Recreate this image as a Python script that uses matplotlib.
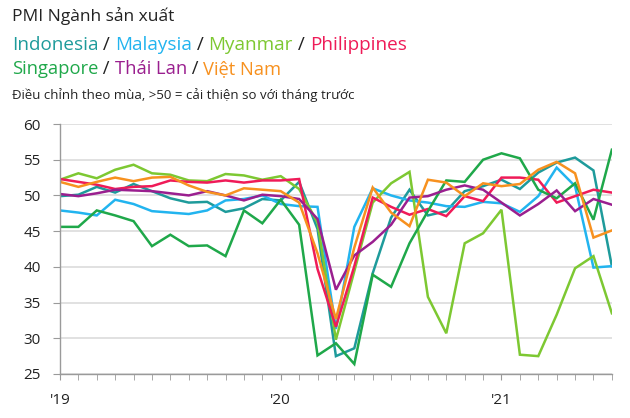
import matplotlib.pyplot as plt
import numpy as np

plt.rcParams['font.family'] = ['Open Sans', 'DejaVu Sans']

# Tháng 1/2019 -> tháng 7/2021
year_labels = ["'19", "'20", "'21"]

indonesia = [49.9, 50.1, 51.2, 50.4, 51.6, 50.6, 49.6, 49.0, 49.1, 47.7, 48.2, 49.5,
             49.3, 51.9, 45.3, 27.5, 28.6, 39.1, 46.9, 50.8, 47.2, 47.8, 50.6, 51.3,
             52.2, 50.9, 53.2, 54.6, 55.3, 53.5, 40.1]
malaysia = [47.9, 47.6, 47.2, 49.4, 48.8, 47.8, 47.6, 47.4, 47.9, 49.3, 49.5, 50.0,
            48.8, 48.5, 48.4, 31.3, 45.6, 51.0, 50.0, 49.3, 49.0, 48.5, 48.4, 49.1,
            48.9, 47.7, 49.9, 53.9, 51.3, 39.9, 40.1]
myanmar = [52.2, 53.1, 52.4, 53.6, 54.3, 53.1, 52.9, 52.1, 52.0, 53.0, 52.8, 52.2,
           52.7, 50.9, 46.2, 29.8, 39.4, 49.0, 51.7, 53.3, 35.8, 30.7, 43.3, 44.7,
           48.0, 27.7, 27.5, 33.3, 39.8, 41.5, 33.5]
philippines = [52.3, 51.9, 51.5, 50.9, 51.2, 51.3, 52.1, 51.9, 51.8, 52.1, 51.8, 52.1,
               52.1, 52.3, 39.7, 31.6, 40.1, 49.7, 48.4, 47.3, 48.1, 47.1, 49.9, 49.2,
               52.5, 52.5, 52.2, 49.0, 49.9, 50.8, 50.4]
singapore = [45.6, 45.6, 47.9, 47.2, 46.4, 42.9, 44.5, 42.9, 43.0, 41.5, 47.9, 46.1,
             49.4, 45.9, 27.6, 29.3, 26.4, 38.9, 37.2, 43.3, 47.8, 52.1, 51.9, 55.0,
             55.9, 55.2, 50.8, 49.6, 51.7, 46.6, 56.4]
thailand = [50.2, 49.9, 50.3, 50.8, 50.7, 50.6, 50.3, 50.0, 50.6, 50.0, 49.3, 50.1,
            49.9, 49.5, 46.7, 36.8, 41.6, 43.5, 45.9, 49.7, 49.9, 50.8, 51.4, 50.8,
            49.0, 47.2, 48.8, 50.7, 47.8, 49.5, 48.7]
vietnam = [51.9, 51.2, 51.9, 52.5, 52.0, 52.5, 52.6, 51.4, 50.5, 50.0, 51.0, 50.8,
           50.6, 49.0, 41.9, 32.7, 42.7, 51.1, 47.6, 45.7, 52.2, 51.8, 49.9, 51.7,
           51.3, 51.6, 53.6, 54.7, 53.1, 44.1, 45.1]

names = ['Indonesia', 'Malaysia', 'Myanmar', 'Philippines', 'Singapore', 'Thái Lan', 'Việt Nam']
series = [indonesia, malaysia, myanmar, philippines, singapore, thailand, vietnam]
colors = ['#1E9B9B', '#22B4EF', '#7DC832', '#EF1B58', '#1FA84A', '#9A1F8F', '#F7911F']

months = np.arange(len(indonesia))

fig = plt.figure(figsize=(6.3, 4.18), dpi=100)
ax = fig.add_axes([0.0952, 0.1053, 0.876, 0.598])

for vals, c in zip(series, colors):
    ax.plot(months, vals, color=c, linewidth=1.8, solid_joinstyle='miter')

ax.set_xlim(0, len(months) - 1)
ax.set_ylim(25, 60)
ax.set_yticks(np.arange(25, 61, 5))
ax.set_xticks(months, minor=True)
ax.set_xticks([0, 12, 24])
ax.set_xticklabels(year_labels)
ax.grid(axis='y', color='#dcdcdc', linewidth=1.2)
ax.set_axisbelow(True)
for s in ['top', 'right']:
    ax.spines[s].set_visible(False)
for s in ['left', 'bottom']:
    ax.spines[s].set_color('#9a9a9a')
    ax.spines[s].set_linewidth(1.0)
ax.tick_params(axis='y', colors='#9a9a9a', labelcolor='#222222', labelsize=11, length=5, pad=9)
ax.tick_params(axis='x', which='both', colors='#9a9a9a', labelcolor='#222222', labelsize=11,
               length=4, pad=10)


def colored_line(parts, x, y, size):
    # vẽ các đoạn chữ nhiều màu nối tiếp nhau, cùng đường chân chữ
    r = fig.canvas.get_renderer()
    for txt, col in parts:
        t = fig.text(x, y, txt, color=col, fontsize=size, va='baseline', ha='left',
                     transform=None)
        bb = t.get_window_extent(renderer=r)
        x = bb.x1


H = 418
fig.text(12 / 630, 1 - 16 / H, 'PMI Ngành sản xuất', fontsize=12.5, color='#222222', va='center')
sep = ' / '
line1 = []
for i in range(4):
    line1.append((names[i], colors[i]))
    if i < 3:
        line1.append((sep, '#222222'))
line2 = []
for i in range(4, 7):
    line2.append((names[i], colors[i]))
    if i < 6:
        line2.append((sep, '#222222'))
colored_line(line1, 12, H - 50, 13.6)
colored_line(line2, 12, H - 74, 13.2)
fig.text(12 / 630, 1 - 95 / H, 'Điều chỉnh theo mùa, >50 = cải thiện so với tháng trước',
         fontsize=9.5, color='#222222', va='center')

fig.savefig('out.png', dpi=100)
